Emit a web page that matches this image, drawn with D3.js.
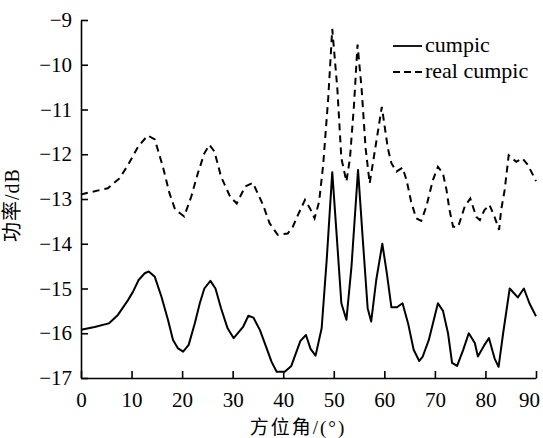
<!DOCTYPE html>
<html>
<head>
<meta charset="utf-8">
<script src="https://cdn.jsdelivr.net/npm/d3@7"></script>
<style>
  body { margin: 0; background: #fff; }
  text { font-family: 'Liberation Serif', 'Noto Sans CJK SC', serif; fill: #000; }
</style>
</head>
<body>
<div id="chart"></div>
<script>
// azimuth angle (deg) and power (dB)
var cumpicAngle = [0, 2.7, 5.5, 7.3, 9.3, 10.3, 11.4, 12.6, 13.4, 14.6, 15.9, 17.2, 18.2, 19.2, 20.2, 21.3, 22.5, 23.5, 24.4, 25.6, 26.6, 27.7, 29.0, 30.2, 32.1, 33.1, 34.1, 35.4, 36.6, 37.7, 38.7, 40.3, 41.6, 43.4, 44.5, 45.4, 46.4, 47.6, 48.6, 49.7, 50.5, 51.5, 52.5, 53.5, 54.8, 55.7, 56.7, 57.4, 58.4, 59.6, 60.5, 61.4, 62.5, 63.6, 64.7, 65.8, 66.9, 67.6, 68.8, 70.6, 71.6, 72.6, 73.4, 74.4, 75.6, 76.7, 77.9, 78.5, 79.8, 80.7, 81.8, 82.6, 83.5, 84.8, 86.4, 87.6, 88.7, 90]
var cumpicPower = [-15.92, -15.86, -15.78, -15.59, -15.26, -15.07, -14.81, -14.66, -14.62, -14.74, -15.18, -15.70, -16.15, -16.34, -16.41, -16.26, -15.78, -15.33, -15.0, -14.83, -15.0, -15.44, -15.89, -16.11, -15.85, -15.61, -15.65, -15.93, -16.3, -16.64, -16.86, -16.86, -16.73, -16.17, -16.04, -16.35, -16.5, -15.89, -14.36, -12.4, -13.69, -15.33, -15.70, -14.51, -12.35, -13.84, -15.44, -15.74, -14.81, -14.0, -14.66, -15.42, -15.42, -15.33, -15.78, -16.37, -16.62, -16.52, -16.15, -15.33, -15.5, -16.0, -16.66, -16.73, -16.37, -16.0, -16.22, -16.52, -16.26, -16.11, -16.56, -16.75, -16.0, -15.0, -15.2, -15.0, -15.33, -15.62]

var realAngle = [0, 1.4, 5.3, 7.6, 9.3, 11.3, 13.2, 14.6, 16.2, 17.5, 18.6, 20.4, 21.8, 23.1, 24.4, 25.4, 26.4, 27.7, 29.5, 30.8, 32.5, 34.0, 36.0, 37.3, 38.9, 40.9, 41.9, 42.9, 44.3, 45.3, 46.2, 47.1, 47.9, 48.9, 49.7, 50.7, 51.5, 52.5, 53.2, 54.0, 54.7, 55.5, 56.3, 57.1, 58.2, 59.5, 60.7, 61.4, 62.4, 63.6, 64.4, 65.3, 66.3, 67.3, 68.3, 69.6, 70.6, 71.6, 72.3, 72.9, 73.6, 74.6, 75.9, 77.0, 78.2, 78.9, 79.8, 80.8, 81.8, 82.7, 83.1, 83.8, 84.6, 86.1, 87.3, 88.4, 90]
var realPower = [-12.9, -12.86, -12.76, -12.54, -12.24, -11.83, -11.58, -11.67, -12.28, -12.87, -13.23, -13.39, -12.95, -12.43, -11.98, -11.79, -11.94, -12.5, -12.95, -13.1, -12.72, -12.64, -13.13, -13.54, -13.80, -13.77, -13.62, -13.36, -13.02, -13.21, -13.43, -13.06, -12.24, -10.75, -9.2, -10.53, -12.09, -12.61, -12.09, -10.9, -9.55, -10.53, -11.87, -12.65, -11.87, -10.94, -11.87, -12.2, -12.39, -12.3, -12.58, -13.06, -13.43, -13.49, -13.17, -12.58, -12.28, -12.43, -12.8, -13.25, -13.62, -13.62, -13.17, -12.99, -13.4, -13.47, -13.25, -13.13, -13.4, -13.69, -13.25, -12.8, -12.02, -12.17, -12.09, -12.24, -12.6]

var xTicks = [0, 10, 20, 30, 40, 50, 60, 70, 80, 90]
var yTicks = [-17, -16, -15, -14, -13, -12, -11, -10, -9]
var seriesNames = ['cumpic', 'real cumpic']

var width = 543,
    height = 438

var svg = d3.select('#chart')
  .append('svg')
  .attr('width', width)
  .attr('height', height)

var x = d3.scaleLinear().domain([0, 90]).range([81, 536])
var y = d3.scaleLinear().domain([-17, -9]).range([378, 20])

var fmt = function (d) { return d < 0 ? '\u2212' + Math.abs(d) : d }

var xAxis = svg.append('g')
  .attr('transform', 'translate(0,' + y(-17) + ')')
  .call(d3.axisBottom(x).tickValues(xTicks).tickSizeInner(-7).tickSizeOuter(0).tickPadding(14))
var yAxis = svg.append('g')
  .attr('transform', 'translate(' + x(0) + ',0)')
  .call(d3.axisLeft(y).tickValues(yTicks).tickFormat(fmt).tickSizeInner(-7).tickSizeOuter(0).tickPadding(9))

svg.selectAll('.domain, .tick line').attr('stroke', '#000').attr('stroke-width', 1.6)
svg.selectAll('.tick text')
  .attr('font-size', 21)
  .attr('font-family', "'Liberation Serif', serif")

// last x label sits a bit left so it stays on the page
xAxis.selectAll('.tick text')
  .filter(function (d) { return d === 90 })
  .attr('dx', -7)

function series(ax, pw) {
  return ax.map(function (a, i) { return [a, pw[i]] })
}

var line = d3.line()
  .x(function (d) { return x(d[0]) })
  .y(function (d) { return y(d[1]) })

svg.append('path')
  .datum(series(cumpicAngle, cumpicPower))
  .attr('fill', 'none')
  .attr('stroke', '#000')
  .attr('stroke-width', 2)
  .attr('stroke-linejoin', 'round')
  .attr('d', line)

svg.append('path')
  .datum(series(realAngle, realPower))
  .attr('fill', 'none')
  .attr('stroke', '#000')
  .attr('stroke-width', 2)
  .attr('stroke-dasharray', '7,5')
  .attr('d', line)

// legend
var legend = svg.append('g').attr('transform', 'translate(393,0)')
seriesNames.forEach(function (name, i) {
  var ly = 46 + i * 26
  legend.append('line')
    .attr('x1', 0).attr('x2', 29)
    .attr('y1', ly).attr('y2', ly)
    .attr('stroke', '#000')
    .attr('stroke-width', 1.8)
    .attr('stroke-dasharray', i ? '7,4' : null)
  legend.append('text')
    .attr('x', 32).attr('y', ly + 6)
    .attr('font-size', 22)
    .text(name)
})

// axis titles
svg.append('text')
  .attr('x', 298).attr('y', 434)
  .attr('text-anchor', 'middle')
  .attr('font-size', 19)
  .attr('letter-spacing', 2)
  .text('方位角/(°)')

svg.append('text')
  .attr('transform', 'translate(19,205) rotate(-90)')
  .attr('text-anchor', 'middle')
  .attr('font-size', 20)
  .attr('letter-spacing', 1)
  .text('功率/dB')
</script>
</body>
</html>
